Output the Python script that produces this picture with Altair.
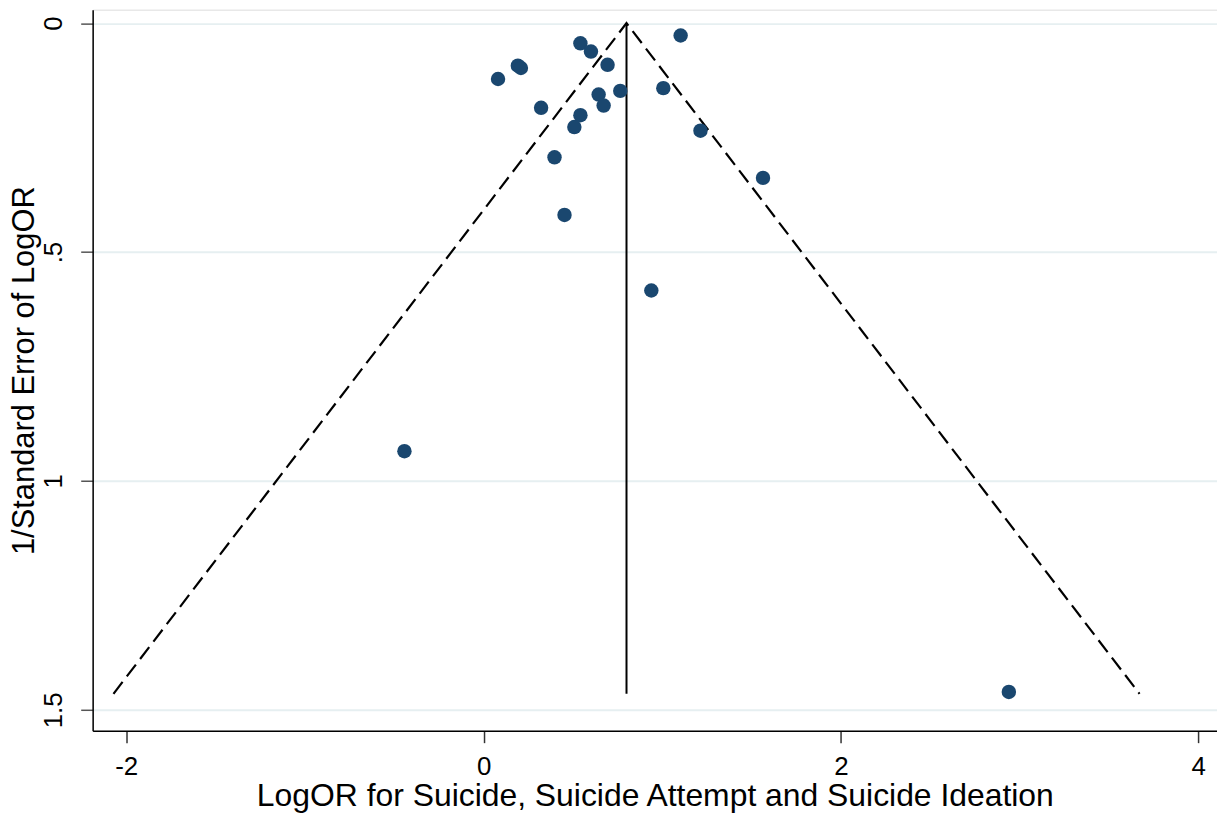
import altair as alt
import pandas as pd

# Study estimates
log_or = [0.081, 0.192, 0.209, 0.542, 0.601, 0.694, 1.103, 0.322, 0.765, 0.644,
          0.672, 1.006, 0.542, 0.508, 1.214, 0.397, 1.564, 0.453, 0.939, -0.443, 2.940]
se_log_or = [0.122, 0.093, 0.098, 0.044, 0.062, 0.091, 0.027, 0.185, 0.148, 0.156,
             0.180, 0.142, 0.201, 0.227, 0.235, 0.293, 0.338, 0.419, 0.584, 0.935, 1.461]

# Pooled estimate and pseudo 95% confidence limits
pooled = 0.80
se_max = 1.465
funnel_x = [pooled - 1.96 * se_max, pooled, pooled + 1.96 * se_max]
funnel_y = [se_max, 0.0, se_max]
center_x = [pooled, pooled]
center_y = [0.0, se_max]

x_ticks = [-2, 0, 2, 4]
y_ticks = [0, 0.5, 1, 1.5]

points = pd.DataFrame({"x": log_or, "y": se_log_or})
funnel = pd.DataFrame({"x": funnel_x, "y": funnel_y, "o": [0, 1, 2]})
center = pd.DataFrame({"x": center_x, "y": center_y})

FONT = "Liberation Sans"
xscale = alt.Scale(domain=[-2.188, 4.105], nice=False, zero=False)
yscale = alt.Scale(domain=[-0.0294, 1.5456], nice=False, zero=False, reverse=True)

xaxis = alt.Axis(values=x_ticks, title="LogOR for Suicide, Suicide Attempt and Suicide Ideation",
                 grid=False, tickSize=12, tickColor="#333333", tickWidth=1.5,
                 domainColor="#000000", domainWidth=1.5,
                 labelFontSize=26, labelFont=FONT, labelColor="#000000", labelPadding=11,
                 labelExpr="toString(datum.value)",
                 titleFontSize=32, titleFont=FONT, titleFontWeight="normal",
                 titleColor="#000000", titlePadding=1)
yaxis = alt.Axis(values=y_ticks, title="1/Standard Error of LogOR",
                 grid=True, gridColor="#e6eff1", gridWidth=2,
                 tickSize=12, tickColor="#555555", tickWidth=1.5,
                 domainColor="#000000", domainWidth=1.5,
                 labelFontSize=26, labelFont=FONT, labelColor="#000000",
                 labelAngle=270, labelAlign="center", labelBaseline="bottom", labelPadding=14,
                 labelExpr="datum.value == 0 ? '0' : datum.value == 0.5 ? '.5' : datum.value == 1 ? '1' : '1.5'",
                 titleFontSize=31, titleFont=FONT, titleFontWeight="normal",
                 titleColor="#000000", titlePadding=0)

base_pts = alt.Chart(points).mark_circle(size=210, color="#1a476f", opacity=1).encode(
    x=alt.X("x:Q", scale=xscale, axis=xaxis),
    y=alt.Y("y:Q", scale=yscale, axis=yaxis),
)

funnel_lines = alt.Chart(funnel).mark_line(color="#000000", strokeWidth=2.2, strokeDash=[15, 7]).encode(
    x=alt.X("x:Q", scale=xscale),
    y=alt.Y("y:Q", scale=yscale),
    order="o:O",
)

center_line = alt.Chart(center).mark_line(color="#000000", strokeWidth=2).encode(
    x=alt.X("x:Q", scale=xscale),
    y=alt.Y("y:Q", scale=yscale),
)

chart = alt.layer(funnel_lines, center_line, base_pts).properties(
    width=1129, height=724,
    autosize=alt.AutoSizeParams(type="none"),
    padding={"left": 85, "top": 0, "right": 0, "bottom": 95},
).configure_view(stroke=None).configure(background="#ffffff")

chart.save("out.html", embed_options={"renderer": "svg", "actions": False})
